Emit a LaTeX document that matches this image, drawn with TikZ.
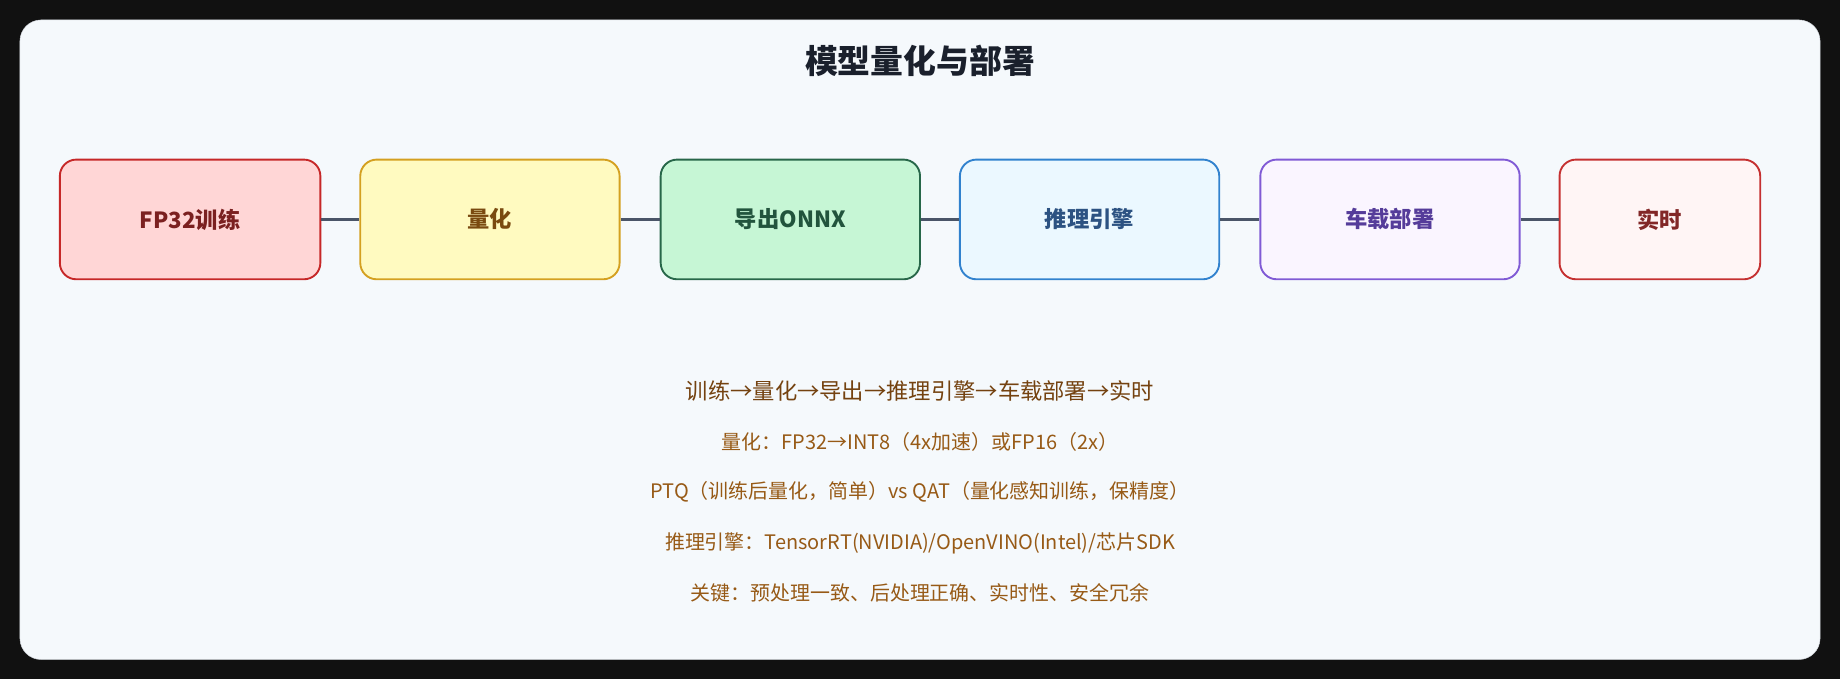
\documentclass[tikz,border=0pt]{standalone}
\usepackage{fontspec}
\setmainfont{Noto Sans CJK SC}
\begin{document}
\begin{tikzpicture}[x=1pt,y=-1pt,
  box/.style={draw,line width=1.6pt,rounded corners=14pt,minimum height=102pt,font=\fontsize{19}{22}\selectfont\bfseries,inner sep=0pt},
  link/.style={draw=c4A5568,line width=3pt},
  note/.style={text=c975A16,font=\fontsize{17}{20}\selectfont}]
\definecolor{c4A5568}{HTML}{4A5568}
\definecolor{c975A16}{HTML}{975A16}
\fill[fill={rgb,255:red,17;green,17;blue,17}] (0,0) rectangle (1568,579);
\draw[fill={rgb,255:red,245;green,249;blue,252},draw={rgb,255:red,210;green,214;blue,220},rounded corners=18pt] (17,17) rectangle (1551,562);
\node[font=\fontsize{28}{32}\selectfont\bfseries,text={rgb,255:red,26;green,32;blue,44}] (title) at (784,52) {模型量化与部署};
\node[box,fill={rgb,255:red,255;green,214;blue,214},draw={rgb,255:red,198;green,40;blue,40},text={rgb,255:red,123;green,32;blue,32},minimum width=222pt] (a) at (162,187) {FP32训练};
\node[box,fill={rgb,255:red,255;green,250;blue,192},draw={rgb,255:red,212;green,160;blue,32},text={rgb,255:red,122;green,74;blue,16},minimum width=221pt] (b) at (417.5,187) {量化};
\node[box,fill={rgb,255:red,198;green,246;blue,213},draw={rgb,255:red,39;green,103;blue,73},text={rgb,255:red,34;green,84;blue,61},minimum width=221pt] (c) at (673.5,187) {导出ONNX};
\node[box,fill={rgb,255:red,235;green,248;blue,255},draw={rgb,255:red,49;green,130;blue,206},text={rgb,255:red,44;green,82;blue,130},minimum width=221pt] (d) at (928.5,187) {推理引擎};
\node[box,fill={rgb,255:red,250;green,245;blue,255},draw={rgb,255:red,128;green,90;blue,213},text={rgb,255:red,85;green,60;blue,154},minimum width=221pt] (e) at (1184.5,187) {车载部署};
\node[box,fill={rgb,255:red,255;green,245;blue,245},draw={rgb,255:red,197;green,48;blue,48},text={rgb,255:red,130;green,39;blue,39},minimum width=171pt] (f) at (1414.5,187) {实时};
\draw[link] (a) -- (b);
\draw[link] (b) -- (c);
\draw[link] (c) -- (d);
\draw[link] (d) -- (e);
\draw[link] (e) -- (f);
\node[note,font=\fontsize{19}{22}\selectfont,text={rgb,255:red,116;green,66;blue,16}] (n1) at (784,333) {训练→量化→导出→推理引擎→车载部署→实时};
\node[note] (n2) at (784,377) {量化：FP32→INT8（4x加速）或FP16（2x）};
\node[note] (n3) at (784,419) {PTQ（训练后量化，简单）vs QAT（量化感知训练，保精度）};
\node[note] (n4) at (784,463) {推理引擎：TensorRT(NVIDIA)/OpenVINO(Intel)/芯片SDK};
\node[note] (n5) at (784,505) {关键：预处理一致、后处理正确、实时性、安全冗余};
\end{tikzpicture}
\end{document}
